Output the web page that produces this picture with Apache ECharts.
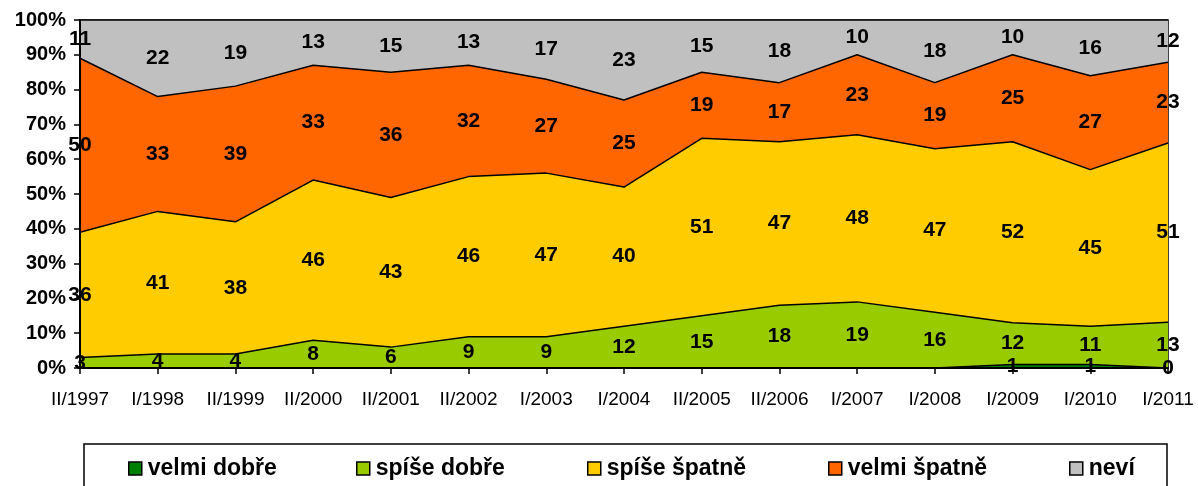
<!DOCTYPE html>
<html>
<head>
<meta charset="utf-8">
<script src="https://cdn.jsdelivr.net/npm/echarts@6/dist/echarts.min.js"></script>
<style>
html,body{margin:0;padding:0;background:#fff;}
#chart{width:1198px;height:486px;}
</style>
</head>
<body>
<div id="chart"></div>
<script>
const categories = ['II/1997','I/1998','II/1999','II/2000','II/2001','II/2002','I/2003','I/2004','II/2005','II/2006','I/2007','I/2008','I/2009','I/2010','I/2011'];
const velmiDobre  = [null,null,null,null,null,null,null,null,null,null,null,null,1,1,0];
const spiseDobre  = [3,4,4,8,6,9,9,12,15,18,19,16,12,11,13];
const spiseSpatne = [36,41,38,46,43,46,47,40,51,47,48,47,52,45,51];
const velmiSpatne = [50,33,39,33,36,32,27,25,19,17,23,19,25,27,23];
const nevi        = [11,22,19,13,15,13,17,23,15,18,10,18,10,16,12];
const seriesNames = ['velmi dobře','spíše dobře','spíše špatně','velmi špatně','neví'];

const colors = ['#008000','#99CC00','#FFCC00','#FF6600','#C0C0C0'];
const seriesValues = [velmiDobre, spiseDobre, spiseSpatne, velmiSpatne, nevi];

const totals = categories.map((c,i)=>seriesValues.reduce((s,arr)=>s+(arr[i]||0),0));
const pct = seriesValues.map(arr=>arr.map((v,i)=>(v||0)/totals[i]*100));

const lineSeries = seriesNames.map((n,k)=>({
  name:n, type:'line', stack:'total', symbol:'none', silent:true,
  data: pct[k],
  lineStyle:{color:'#000',width:1.5},
  itemStyle:{color:colors[k], borderColor:'#000', borderWidth:1.5},
  areaStyle:{color:colors[k], opacity:1},
  z:2
}));

const labelData = [];
categories.forEach((c,i)=>{
  let cum = 0;
  seriesValues.forEach((arr,k)=>{
    const p = pct[k][i];
    if (arr[i] !== null) labelData.push([i, cum + p/2, arr[i]]);
    cum += p;
  });
});

const legendPos = [123, 351, 582, 823, 1064];
const legends = seriesNames.map((n,k)=>({
  data:[n], left:legendPos[k], top:452, icon:'rect', itemWidth:13, itemHeight:13,
  itemStyle:{borderColor:'#000', borderWidth:1.5},
  textStyle:{fontFamily:'Liberation Sans, Arial', fontWeight:'bold', fontSize:23, color:'#000', padding:[0,0,0,1]},
  selectedMode:false
}));

const chart = echarts.init(document.getElementById('chart'), null, {renderer:'canvas'});
chart.setOption({
  animation:false,
  backgroundColor:'#fff',
  grid:{left:80, right:30, top:20, bottom:118, show:true, borderColor:'#000', borderWidth:1.5, backgroundColor:'transparent'},
  legend: legends,
  graphic:[{type:'rect', shape:{x:84, y:444, width:1083, height:60}, style:{fill:'none', stroke:'#000', lineWidth:1.5}, z:0}],
  xAxis:{
    type:'category', data:categories, boundaryGap:false,
    axisLine:{lineStyle:{color:'#000', width:2}},
    axisTick:{show:true, length:6, lineStyle:{color:'#000', width:1.5}},
    axisLabel:{fontFamily:'Liberation Sans, Arial', fontSize:19, color:'#000', margin:22, interval:0},
    splitLine:{show:false}, z:5
  },
  yAxis:{
    type:'value', min:0, max:100, interval:10,
    axisLine:{show:true, lineStyle:{color:'#000', width:2}},
    axisTick:{show:true, length:6, lineStyle:{color:'#000', width:1.5}},
    axisLabel:{formatter:v=>v+'%', fontFamily:'Liberation Sans, Arial', fontWeight:'bold', fontSize:20, color:'#000', margin:14},
    splitLine:{show:false}, z:5
  },
  series: lineSeries.concat([{
    name:'labels', type:'scatter', data:labelData, symbolSize:0, silent:true,
    itemStyle:{color:'#000', opacity:1}, z:10,
    label:{show:true, position:'inside', formatter:p=>String(p.value[2]), fontFamily:'Liberation Sans, Arial', fontWeight:'bold', fontSize:21, color:'#000', opacity:1, textBorderWidth:0}
  }])
});
</script>
</body>
</html>
